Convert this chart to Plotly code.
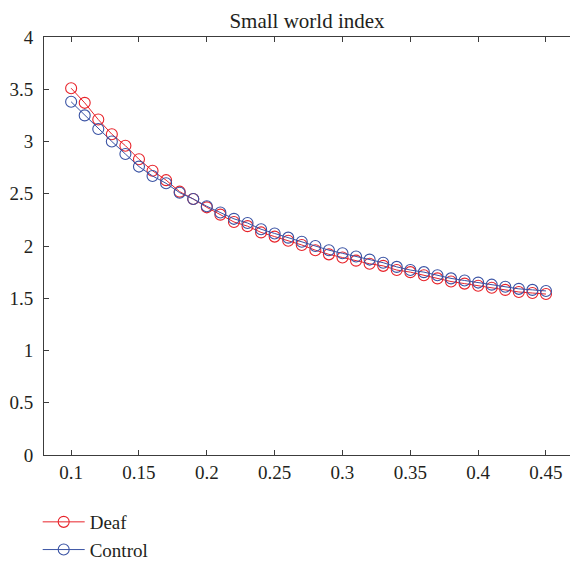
import plotly.graph_objects as go

# Threshold values (x axis) and small-world index for each group
threshold = [0.10, 0.11, 0.12, 0.13, 0.14, 0.15, 0.16, 0.17, 0.18, 0.19,
             0.20, 0.21, 0.22, 0.23, 0.24, 0.25, 0.26, 0.27, 0.28, 0.29,
             0.30, 0.31, 0.32, 0.33, 0.34, 0.35, 0.36, 0.37, 0.38, 0.39,
             0.40, 0.41, 0.42, 0.43, 0.44, 0.45]

deaf = [3.51, 3.37, 3.21, 3.07, 2.96, 2.83, 2.72, 2.63, 2.52, 2.45,
        2.37, 2.30, 2.23, 2.19, 2.13, 2.09, 2.05, 2.01, 1.96, 1.92,
        1.89, 1.86, 1.83, 1.81, 1.77, 1.75, 1.72, 1.69, 1.66, 1.64,
        1.62, 1.60, 1.58, 1.56, 1.55, 1.54]

control = [3.38, 3.25, 3.12, 3.00, 2.88, 2.76, 2.67, 2.60, 2.51, 2.45,
           2.38, 2.32, 2.26, 2.22, 2.16, 2.12, 2.08, 2.04, 2.00, 1.96,
           1.93, 1.90, 1.87, 1.84, 1.80, 1.77, 1.75, 1.72, 1.69, 1.67,
           1.65, 1.63, 1.61, 1.59, 1.58, 1.57]

x_ticks = [0.1, 0.15, 0.2, 0.25, 0.3, 0.35, 0.4, 0.45]
x_tick_text = ["0.1", "0.15", "0.2", "0.25", "0.3", "0.35", "0.4", "0.45"]
y_ticks = [0, 0.5, 1, 1.5, 2, 2.5, 3, 3.5, 4]
y_tick_text = ["0", "0.5", "1", "1.5", "2", "2.5", "3", "3.5", "4"]

RED = "#E8232A"
BLUE = "#3A53A4"
FONT = "Liberation Serif, Times New Roman, serif"
INK = "#231F20"
AXIS = "#3C3C3C"

fig = go.Figure()
fig.add_trace(go.Scatter(
    x=threshold, y=deaf, name="Deaf", mode="lines+markers",
    line=dict(color=RED, width=1),
    marker=dict(symbol="circle-open", size=11, color=RED, line=dict(width=1.1, color=RED)),
))
fig.add_trace(go.Scatter(
    x=threshold, y=control, name="Control", mode="lines+markers",
    line=dict(color=BLUE, width=1),
    marker=dict(symbol="circle-open", size=11, color=BLUE, line=dict(width=1.1, color=BLUE)),
))

tick_style = dict(ticks="inside", ticklen=5, tickwidth=1, tickcolor=AXIS,
                  tickfont=dict(family=FONT, size=19, color=INK))

fig.update_layout(
    width=570, height=562,
    margin=dict(l=44, r=0, t=37, b=107),
    paper_bgcolor="white", plot_bgcolor="white",
    title=dict(text="Small world index", x=0.5, xref="paper", xanchor="center",
               y=1 - 21 / 562, yref="container", yanchor="middle",
               font=dict(family=FONT, size=21, color=INK)),
    xaxis=dict(range=[0.08, 0.4677], tickvals=x_ticks, ticktext=x_tick_text,
               showgrid=False, zeroline=False, showline=True, linecolor=AXIS,
               linewidth=1, mirror="ticks", ticklabelstandoff=0, **tick_style),
    yaxis=dict(range=[0, 4], tickvals=y_ticks, ticktext=y_tick_text,
               showgrid=False, zeroline=False, showline=True, linecolor=AXIS,
               linewidth=1, mirror=False, ticklabelstandoff=6, **tick_style),
    # right-hand tick marks only, no vertical frame line at the page edge
    yaxis2=dict(range=[0, 4], tickvals=y_ticks, overlaying="y", side="right",
                anchor="x", showticklabels=False, showgrid=False, zeroline=False,
                showline=False, ticks="inside", ticklen=5, tickwidth=1,
                tickcolor=AXIS),
    showlegend=True,
    legend=dict(x=-0.012, y=1 - 503 / 562, yref="container",
                xanchor="left", yanchor="top",
                orientation="v", bgcolor="rgba(0,0,0,0)", borderwidth=0,
                font=dict(family=FONT, size=19, color=INK),
                itemwidth=42, tracegroupgap=0),
)

fig.write_html("out.html")
